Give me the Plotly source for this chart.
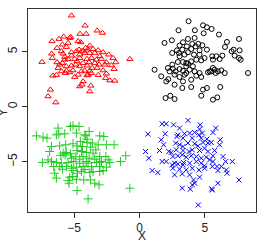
import plotly.graph_objects as go

red_x = [-5.20,-4.16,-3.24,-2.83,-4.54,-4.08,-5.79,-5.26,-6.68,-6.15,-5.33,-4.69,-4.49,-5.89,-5.46,-3.80,-6.30,-5.59,-4.11,-3.93,
         -3.55,-3.16,-4.62,-4.39,-5.20,-4.82,-5.97,-5.84,-6.71,-6.66,-5.71,-5.20,-5.46,-4.57,-4.18,-3.80,-3.42,-2.78,-3.04,-2.35,
         -2.02,-7.45,-0.74,-6.30,-6.10,-5.71,-4.95,-4.57,-4.01,-3.67,-3.29,-2.91,-2.53,-1.81,-5.89,-4.77,-4.31,-3.85,-3.42,-3.09,
         -2.65,-2.14,-6.22,-5.59,-5.20,-4.87,-4.57,-4.01,-3.62,-3.24,-2.78,-1.94,-5.97,-5.59,-5.33,-5.08,-4.44,-4.18,-3.80,-3.67,
         -4.69,-4.95,-5.66,-6.61,-6.35,-3.16,-3.93,-2.58,-2.27,-1.89,-2.53,-4.31,-4.39,-4.57,-3.72,-3.80,-6.81,-6.99,-6.40,-4.01]
red_y = [8.27,7.36,6.91,6.70,6.61,6.61,6.36,6.33,5.94,6.15,6.24,5.94,5.85,5.64,5.79,5.55,5.33,5.42,5.33,5.18,
         5.24,5.12,5.18,5.06,4.94,5.03,5.03,4.82,4.82,4.42,4.52,4.64,4.33,4.73,4.88,4.88,4.88,4.94,4.58,4.73,
         4.42,4.06,4.33,4.03,3.82,4.27,4.33,4.42,4.33,4.42,4.27,4.33,4.03,4.03,3.97,4.12,3.97,4.03,3.97,3.82,
         3.82,3.76,3.52,3.67,3.73,3.82,3.67,3.73,3.52,3.52,3.30,3.42,3.21,3.27,3.12,3.30,3.21,3.27,3.27,3.06,
         2.91,2.70,3.06,2.82,2.88,2.88,2.91,2.61,2.39,2.36,3.00,2.30,2.00,1.85,1.91,1.39,1.55,0.94,0.39,2.85]

black_x = [3.75,4.85,5.15,5.51,2.98,4.23,4.90,6.07,3.70,4.21,7.60,1.91,2.47,3.32,4.03,4.49,6.68,3.06,3.62,4.29,
           4.80,6.53,7.04,7.65,2.86,3.27,3.95,4.59,5.15,2.50,3.01,3.70,5.87,6.33,7.27,7.60,7.73,3.06,4.16,4.59,
           4.97,5.61,6.12,2.93,3.32,3.57,3.95,4.34,4.72,1.15,2.17,2.55,3.06,3.57,3.70,2.30,2.76,3.32,3.83,4.21,
           4.59,5.23,5.48,5.74,5.99,6.25,6.51,5.61,5.82,8.29,1.66,2.20,2.68,3.44,3.06,4.34,4.72,3.57,3.95,3.32,
           2.04,2.68,3.27,3.95,4.85,5.15,6.17,1.99,2.35,2.68,4.72,5.61,5.94,5.36,4.08,2.50,5.56,3.44,7.19]
black_y = [7.76,7.39,7.21,7.06,6.94,6.94,6.67,6.55,6.15,6.24,6.15,5.79,6.03,5.85,5.70,5.70,5.88,5.55,5.48,5.48,
           5.58,5.42,5.03,5.12,5.12,5.18,5.24,5.12,5.18,4.88,4.88,4.94,4.58,4.64,4.64,4.42,4.27,4.58,4.73,4.73,
           4.42,4.27,4.33,4.06,4.06,3.97,4.12,4.27,4.21,3.36,3.52,3.45,3.42,3.67,3.91,3.21,3.21,3.27,3.36,3.21,
           3.06,3.12,3.21,3.36,3.21,3.30,3.06,3.52,3.06,3.06,2.76,2.50,2.91,2.91,2.70,2.82,2.70,3.06,2.45,2.30,
           2.30,2.00,1.70,1.79,1.55,1.70,1.79,0.79,1.00,0.70,1.00,0.64,0.85,3.21,3.67,3.82,4.58,4.73,5.18]

green_x = [-7.37,-6.22,-6.17,-5.28,-5.08,-4.62,-3.85,-7.88,-7.07,-6.35,-5.71,-4.82,-4.18,-4.11,-4.01,-3.04,-2.73,-5.08,-4.52,-4.01,
           -3.60,-3.16,-2.53,-1.94,-6.73,-6.10,-5.64,-4.77,-4.36,-3.75,-3.34,-6.86,-5.84,-5.59,-5.28,-4.77,-4.44,-4.06,-3.55,-3.04,
           -2.58,-1.05,-6.02,-4.87,-4.31,-3.85,-3.42,-2.91,-2.40,-6.73,-6.35,-5.97,-5.46,-5.03,-4.57,-3.93,-3.29,-2.27,-1.45,-7.42,
           -6.56,-6.10,-5.59,-5.20,-4.82,-4.31,-3.67,-3.04,-2.53,-5.89,-5.08,-4.44,-3.80,-3.55,-3.04,-2.78,-4.74,-4.06,-6.35,-5.46,
           -5.33,-5.13,-4.82,-4.26,-3.75,-3.42,-3.09,-5.38,-0.74,-4.77,-3.93,-5.69,-5.20,-4.57,-3.04,-4.18,-6.48,-6.99]
green_y = [-2.76,-1.94,-2.48,-1.79,-1.73,-1.79,-2.24,-2.64,-2.85,-2.55,-2.45,-2.39,-2.55,-2.64,-2.94,-2.64,-2.70,-3.36,-3.15,-3.24,
           -3.30,-3.45,-3.45,-3.45,-3.61,-3.55,-3.45,-3.55,-3.61,-3.67,-3.91,-4.06,-4.21,-4.15,-4.27,-3.97,-4.06,-4.15,-4.21,-4.52,
           -4.52,-4.45,-4.42,-4.52,-4.52,-4.67,-4.76,-4.97,-4.82,-4.97,-5.06,-5.12,-5.06,-4.97,-5.12,-5.12,-5.06,-5.06,-4.97,-5.06,
           -5.42,-5.42,-5.42,-5.58,-5.48,-5.42,-5.42,-5.42,-5.48,-5.67,-5.79,-5.88,-5.97,-5.88,-5.88,-5.79,-6.03,-4.97,-6.48,-6.70,
           -6.39,-6.33,-6.58,-6.64,-6.64,-6.94,-7.09,-6.94,-7.39,-7.61,-8.36,-4.36,-4.67,-4.76,-5.06,-5.70,-6.03,-4.82]

blue_x = [1.73,2.04,2.60,3.70,4.64,3.06,4.59,5.82,0.64,1.96,2.93,3.44,3.83,4.21,4.54,4.80,5.61,1.66,2.86,3.32,
          4.03,4.72,5.15,6.17,1.84,2.76,3.06,3.32,3.70,4.21,4.46,4.85,5.23,5.48,0.46,1.53,2.24,2.81,3.32,3.78,
          4.03,4.59,4.97,5.23,5.74,0.71,1.73,2.55,2.93,3.27,3.57,3.95,4.34,4.72,5.10,5.61,6.38,7.09,2.50,2.93,
          3.37,3.83,4.34,4.72,4.97,5.61,5.92,6.25,6.58,0.97,1.40,2.55,3.06,3.57,4.03,4.54,4.97,5.56,5.99,6.63,
          6.68,2.68,3.27,3.83,4.59,4.13,4.21,4.03,5.99,7.60,3.27,3.88,5.51,5.56,4.49,2.04,3.32,5.36,6.12,2.42,2.68]
blue_y = [-1.55,-1.55,-1.64,-1.24,-1.64,-1.94,-2.03,-1.94,-2.48,-2.45,-2.55,-2.45,-2.39,-2.33,-2.55,-2.39,-2.33,-3.00,-2.70,-2.85,
          -2.85,-2.85,-2.94,-3.00,-3.45,-3.30,-3.45,-3.61,-3.30,-3.36,-3.55,-3.24,-3.30,-3.24,-4.06,-3.97,-4.06,-3.91,-3.97,-4.06,
          -3.91,-3.97,-3.76,-4.06,-3.97,-4.67,-4.97,-4.52,-4.45,-4.36,-4.58,-4.45,-4.52,-4.67,-4.58,-4.45,-4.52,-4.97,-5.27,-5.18,
          -5.06,-5.12,-4.97,-5.12,-5.36,-4.97,-5.42,-5.42,-4.97,-5.79,-5.97,-5.58,-5.67,-5.73,-5.58,-5.73,-5.58,-5.42,-5.79,-5.73,
          -6.03,-6.18,-6.09,-6.18,-6.39,-6.64,-6.94,-7.09,-6.94,-6.64,-7.39,-7.48,-7.45,-7.55,-8.91,-4.97,-5.27,-4.82,-3.45,-4.15,-5.12]

x_ticks = [-5, 0, 5]
y_ticks = [-5, 0, 5]
x_title = "X"
y_title = "Y"

fig = go.Figure()
fig.add_trace(go.Scatter(x=red_x, y=red_y, mode="markers",
                         marker=dict(symbol="triangle-up-open", size=5.5, color="#FF0000", line=dict(width=1))))
fig.add_trace(go.Scatter(x=black_x, y=black_y, mode="markers",
                         marker=dict(symbol="circle-open", size=5, color="#000000", line=dict(width=1))))
fig.add_trace(go.Scatter(x=green_x, y=green_y, mode="markers",
                         marker=dict(symbol="cross-thin-open", size=6.5, color="#22CC22", line=dict(width=1))))
fig.add_trace(go.Scatter(x=blue_x, y=blue_y, mode="markers",
                         marker=dict(symbol="x-thin-open", size=5, color="#0000FF", line=dict(width=1))))

axis_common = dict(showgrid=False, zeroline=False, showline=True, mirror=True, automargin=False,
                   linecolor="#333333", linewidth=1, ticks="outside", ticklen=5,
                   tickcolor="#333333", tickfont=dict(size=12, color="#222222"))

fig.update_layout(
    width=266, height=241,
    margin=dict(l=28, r=10, t=9, b=29),
    paper_bgcolor="white", plot_bgcolor="white",
    showlegend=False,
    font=dict(family="Liberation Sans, Arial, sans-serif", size=12, color="#222222"),
    xaxis=dict(range=[-8.52, 8.9], tickvals=x_ticks, **axis_common),
    yaxis=dict(range=[-9.55, 8.87], tickvals=y_ticks, tickangle=-90, **axis_common),
    annotations=[
        dict(text=x_title, xref="paper", yref="paper", x=0.5, y=-0.118, xanchor="center", yanchor="middle",
             showarrow=False, font=dict(size=12, color="#222222")),
        dict(text=y_title, xref="paper", yref="paper", x=-0.11, y=0.49, xanchor="center", yanchor="middle",
             textangle=-90, showarrow=False, font=dict(size=12, color="#222222")),
    ],
)

fig.write_html("out.html", config=dict(displayModeBar=False),
               post_script="document.body.style.margin='0';document.body.style.overflow='hidden';")
